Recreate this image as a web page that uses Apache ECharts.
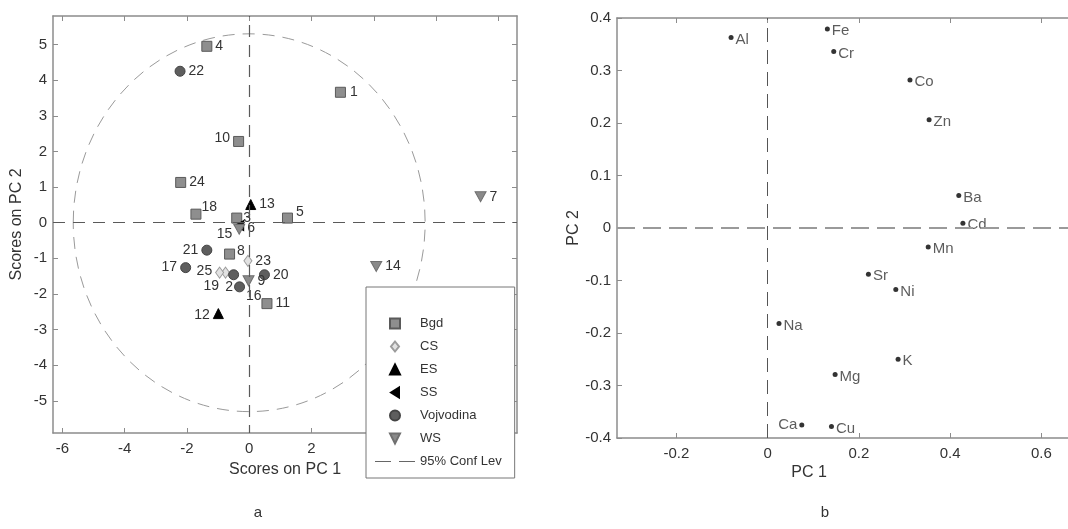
<!DOCTYPE html>
<html><head><meta charset="utf-8">
<script src="https://cdn.jsdelivr.net/npm/echarts@6/dist/echarts.min.js"></script>
<style>html,body{margin:0;padding:0;background:#fff}#c{width:1068px;height:529px}</style>
</head><body><div id="c"></div>
<script>
// ---------- (a) Scores plot: [sample id, score on PC 1, score on PC 2] ----------
const groupNames = ['Bgd', 'CS', 'ES', 'SS', 'Vojvodina', 'WS'];
const bgdScores = [[1, 2.93, 3.66], [3, -0.40, 0.13], [4, -1.36, 4.95], [5, 1.23, 0.13], [8, -0.63, -0.88],
                   [10, -0.34, 2.28], [11, 0.57, -2.27], [18, -1.71, 0.24], [24, -2.20, 1.13]];
const csScores = [[19, -0.76, -1.40], [23, -0.04, -1.07], [25, -0.95, -1.40]];
const esScores = [[12, -0.99, -2.55], [13, 0.05, 0.51]];
const ssScores = [[6, -0.32, -0.08]];
const vojvodinaScores = [[2, -0.50, -1.46], [16, -0.31, -1.80], [17, -2.04, -1.26], [20, 0.49, -1.46],
                         [21, -1.36, -0.77], [22, -2.22, 4.25]];
const wsScores = [[7, 7.43, 0.73], [9, -0.02, -1.63], [14, 4.08, -1.23], [15, -0.32, -0.18]];
const confLimit = [0, 0, 5.65, 5.3];   // centre PC1, centre PC2, half-axis PC1, half-axis PC2
const confName = '95% Conf Lev';
const scoreXTicks = [-6, -4, -2, 0, 2, 4, 6, 8];
const scoreYTicks = [-5, -4, -3, -2, -1, 0, 1, 2, 3, 4, 5];

// ---------- (b) Loadings plot ----------
const elements = ['Al', 'Fe', 'Cr', 'Co', 'Zn', 'Ba', 'Cd', 'Mn', 'Sr', 'Ni', 'Na', 'K', 'Mg', 'Ca', 'Cu'];
const pc1Loadings = [-0.080, 0.131, 0.145, 0.312, 0.354, 0.419, 0.428, 0.352, 0.221, 0.281, 0.025, 0.286, 0.148, 0.075, 0.140];
const pc2Loadings = [0.363, 0.379, 0.336, 0.282, 0.206, 0.062, 0.009, -0.036, -0.088, -0.117, -0.182, -0.250, -0.279, -0.375, -0.378];
const loadXTicks = [-0.2, 0, 0.2, 0.4, 0.6];
const loadYTicks = [-0.4, -0.3, -0.2, -0.1, 0, 0.1, 0.2, 0.3, 0.4];

// ---------- styling ----------
const FONT = 'Liberation Sans, Arial, Helvetica, sans-serif';
const TXT = '#333';
const AX = '#8c8c8c';
const groupStyle = {
  Bgd:       {symbol: 'rect', size: 10, color: '#8e8e8e', border: '#5a5a5a', icon: 'path://M0,0M40,10M15,0h10v10h-10z'},
  CS:        {symbol: 'diamond', size: [8, 11], color: '#e2e2e2', border: '#9c9c9c', icon: 'path://M0,0M40,10M20,0L24,5L20,10L16,5z'},
  ES:        {symbol: 'triangle', size: 10, color: '#000', border: '#000', icon: 'path://M0,0M40,10M20,0L25,10L15,10z'},
  SS:        {symbol: 'path://M0,5L9,0L9,10z', size: [9, 10], color: '#000', border: '#000', icon: 'path://M0,0M40,10M16,5L24,0L24,10z'},
  Vojvodina: {symbol: 'circle', size: 10, color: '#5e5e5e', border: '#444', icon: 'path://M0,0M40,10M25,5A5,5,0,1,1,15,5A5,5,0,1,1,25,5z'},
  WS:        {symbol: 'path://M0,0L10,0L5,9z', size: [11, 10], color: '#8a8a8a', border: '#707070', icon: 'path://M0,0M40,10M15,0L25,0L20,10z'}
};
// label placement around markers: [position, dx, dy]
const scoreLabelPlace = {
  10: ['left', 0, -3], 21: ['left', 0, 0], 17: ['left', 0, 0], 12: ['left', 0, 2], 15: ['left', 2, 5],
  25: ['left', 0, -1], 19: ['left', 1, 14], 2: ['left', 8, 12], 16: ['right', -2, 9], 18: ['right', -3, -7],
  5: ['right', 0, -6], 8: ['right', -1, -3], 6: ['right', 0, 3], 3: ['right', -2, 0], 1: ['right', 1, 0]
};
const groupData = {Bgd: bgdScores, CS: csScores, ES: esScores, SS: ssScores, Vojvodina: vojvodinaScores, WS: wsScores};

function scoreSeries(name) {
  const st = groupStyle[name];
  return {
    type: 'scatter', name, xAxisIndex: 0, yAxisIndex: 0, z: 3,
    symbol: st.symbol, symbolSize: st.size,
    itemStyle: {color: st.color, borderColor: st.border, borderWidth: 1, opacity: 1},
    label: {show: true, position: 'right', distance: 3, color: TXT, fontSize: 14, fontFamily: FONT,
            formatter: p => String(p.value[2])},
    data: groupData[name].map(r => {
      const item = {value: [r[1], r[2], r[0]]};
      const pl = scoreLabelPlace[r[0]];
      if (pl) item.label = {position: pl[0], offset: [pl[1], pl[2]]};
      return item;
    })
  };
}

function frameAxes(kind, grid, min, max, ticks, isMain, extra) {
  return Object.assign({
    type: 'value', gridIndex: grid, min, max,
    axisLine: {show: true, onZero: false, lineStyle: {color: AX, width: 1.5}},
    axisTick: {show: true, inside: true, length: 5, customValues: ticks, lineStyle: {color: AX, width: 1}},
    axisLabel: {show: isMain, customValues: ticks, color: TXT, fontSize: 15, fontFamily: FONT,
                margin: kind === 'x' ? 8 : 6},
    splitLine: {show: false}
  }, extra || {});
}

const option = {
  animation: false,
  backgroundColor: '#fff',
  textStyle: {fontFamily: FONT},
  grid: [
    {left: 53, top: 16, width: 464, height: 417, containLabel: false, outerBoundsMode: 'none'},
    {left: 617, top: 18, width: 470, height: 420, containLabel: false, outerBoundsMode: 'none'}
  ],
  xAxis: [
    frameAxes('x', 0, -6.3, 8.6, scoreXTicks, true, {position: 'bottom', name: 'Scores on PC 1', nameLocation: 'middle',
      nameGap: 29, nameTextStyle: {fontSize: 16, color: TXT, fontFamily: FONT}}),
    frameAxes('x', 0, -6.3, 8.6, scoreXTicks, false, {position: 'top'}),
    frameAxes('x', 1, -0.33, 0.7, loadXTicks, true, {position: 'bottom'}),
    frameAxes('x', 1, -0.33, 0.7, loadXTicks, false, {position: 'top'})
  ],
  yAxis: [
    frameAxes('y', 0, -5.9, 5.8, scoreYTicks, true, {position: 'left', name: 'Scores on PC 2', nameLocation: 'middle',
      nameGap: 28, nameTextStyle: {fontSize: 16, color: TXT, fontFamily: FONT}}),
    frameAxes('y', 0, -5.9, 5.8, scoreYTicks, false, {position: 'right'}),
    frameAxes('y', 1, -0.4, 0.4, loadYTicks, true, {position: 'left', name: 'PC 2', nameLocation: 'middle',
      nameGap: 28, nameTextStyle: {fontSize: 16, color: TXT, fontFamily: FONT}}),
    frameAxes('y', 1, -0.4, 0.4, loadYTicks, false, {position: 'right'})
  ],
  legend: {
    orient: 'vertical', left: 366, top: 287, padding: [30, 13, 10, 8], itemGap: 10,
    itemWidth: 40, itemHeight: 10, backgroundColor: '#fff', borderColor: '#777', borderWidth: 1, borderRadius: 0,
    selectedMode: false, symbolRotate: 0,
    textStyle: {fontSize: 13, color: TXT, lineHeight: 13, fontFamily: FONT},
    data: groupNames.map(n => ({name: n, icon: groupStyle[n].icon}))
      .concat([{name: confName, icon: 'path://M0,0M40,10M0,4.5h16v1h-16zM24,4.5h16v1h-16z'}])
  },
  graphic: [
    {type: 'text', x: 258, y: 513, style: {text: 'a', fontSize: 15, fill: TXT, font: '15px ' + FONT, align: 'center', verticalAlign: 'middle'}},
    {type: 'text', x: 825, y: 513, style: {text: 'b', fontSize: 15, fill: TXT, font: '15px ' + FONT, align: 'center', verticalAlign: 'middle'}},
    {type: 'text', x: 809, y: 473, style: {text: 'PC 1', fontSize: 16, fill: TXT, font: '16px ' + FONT, align: 'center', verticalAlign: 'middle'}}
  ],
  series: [
    {
      type: 'custom', name: confName, xAxisIndex: 0, yAxisIndex: 0, z: 1, silent: true,
      itemStyle: {color: '#666'},
      data: [confLimit],
      renderItem: (params, api) => {
        const c = api.coord([api.value(0), api.value(1)]);
        const s = api.size([api.value(2), api.value(3)]);
        return {type: 'ellipse', shape: {cx: c[0], cy: c[1], rx: s[0], ry: s[1]},
                style: {fill: 'none', stroke: '#9a9a9a', lineWidth: 1, lineDash: [12, 8]}};
      },
      markLine: {
        silent: true, symbol: 'none', label: {show: false}, animation: false,
        lineStyle: {color: '#5a5a5a', width: 1.2, type: [12, 8]},
        data: [{yAxis: 0}, {xAxis: 0, lineStyle: {dashOffset: 4}}]
      }
    },
    ...groupNames.map(scoreSeries),
    {
      type: 'scatter', name: 'loadings', xAxisIndex: 2, yAxisIndex: 2, z: 3,
      symbol: 'circle', symbolSize: 5, itemStyle: {color: '#000'},
      label: {show: true, position: 'right', distance: 2, offset: [0, 2], color: TXT, fontSize: 15, fontFamily: FONT,
              formatter: p => p.value[2]},
      data: elements.map((e, i) => {
        const item = {value: [pc1Loadings[i], pc2Loadings[i], e]};
        if (e === 'Ca') item.label = {position: 'left', offset: [0, 0]};
        return item;
      }),
      markLine: {
        silent: true, symbol: 'none', label: {show: false}, animation: false,
        data: [
          {yAxis: 0, lineStyle: {color: '#9a9a9a', width: 2.2, type: [18, 8]}},
          {xAxis: 0, lineStyle: {color: '#555', width: 1, type: [14, 8]}}
        ]
      }
    }
  ]
};

const chart = echarts.init(document.getElementById('c'), null, {renderer: 'canvas'});
chart.setOption(option);
</script>
</body></html>
